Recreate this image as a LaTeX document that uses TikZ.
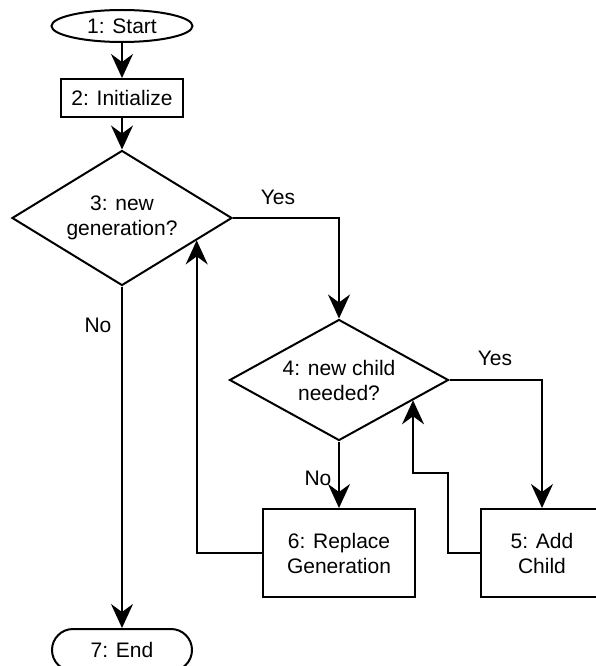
\documentclass[tikz,border=0pt]{standalone}
\usepackage{fontspec}
\setmainfont{Liberation Sans}
\usetikzlibrary{shapes.geometric,arrows.meta,calc}
\begin{document}
\begin{tikzpicture}[x=1pt,y=-1pt,
  every node/.style={font=\fontsize{21}{25}\selectfont, align=center},
  box/.style={draw, line width=2pt, inner sep=0pt},
  decision/.style={draw, diamond, line width=2pt, inner sep=0pt, aspect=1.6},
  flow/.style={line width=2pt, -{Stealth[length=24pt,width=22pt,inset=8pt]}},
  lbl/.style={inner sep=0pt}]
\useasboundingbox (0,0) rectangle (595,666);

% steps
\node[box, ellipse, minimum width=141pt, minimum height=32pt] (start) at (122,26) {1: Start};
\node[box, minimum width=122pt, minimum height=38pt] (init) at (122,98) {2: Initialize};
\node[decision, minimum width=220pt, minimum height=135pt] (d3) at (122,218) {3: new\\generation?};
\node[decision, minimum width=219pt, minimum height=121pt] (d4) at (339,380) {4: new child\\needed?};
\node[box, minimum width=152pt, minimum height=88pt] (b6) at (339,553) {6: Replace\\Generation};
\node[box, minimum width=122pt, minimum height=88pt] (b5) at (542,553) {5: Add\\Child};
\node[box, rounded corners=21pt, minimum width=140pt, minimum height=42pt] (end) at (122,650) {7: End};

% entry points on the lower-right edges of the decisions
\coordinate (d3in) at ($(d3.east)!0.327!(d3.south)$);
\coordinate (d4in) at ($(d4.east)!0.33!(d4.south)$);
\coordinate (k1) at (448,473);

% connectors
\draw[flow] (start) -- (init);
\draw[flow] (init) -- (d3.north);
\draw[flow] (d3.east) -| (d4.north);
\draw[flow] (d3.south) -- (end.north);
\draw[flow] (d4.east) -| (b5.north);
\draw[flow] (d4.south) -- (b6.north);
\draw[flow] (b6.west) -| (d3in);
\draw[flow] (b5.west) -| (k1) -| (d4in);

% branch labels
\node[lbl] (yes3) at (278,197) {Yes};
\node[lbl] (no3) at (98,325) {No};
\node[lbl] (yes4) at (495,358) {Yes};
\node[lbl] (no4) at (318,478) {No};
\end{tikzpicture}
\end{document}
